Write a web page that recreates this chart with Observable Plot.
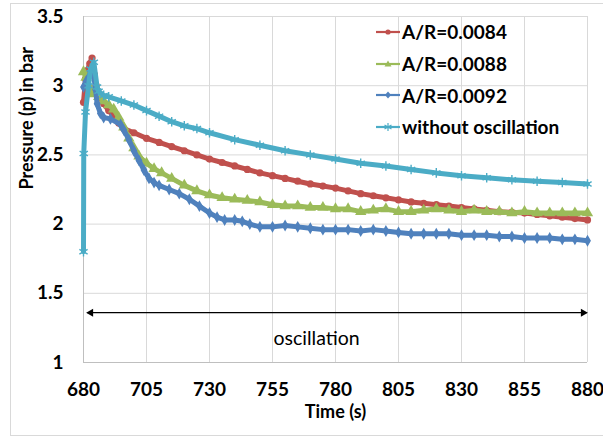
<!DOCTYPE html>
<html><head><meta charset="utf-8">
<script src="https://cdn.jsdelivr.net/npm/d3@7"></script>
<script src="https://cdn.jsdelivr.net/npm/@observablehq/plot@0.6"></script>
<style>
body{margin:0;background:#fff;}
#wrap{position:relative;width:603px;height:437px;overflow:hidden;font-family:Lato,"Open Sans",sans-serif;}
#frame{position:absolute;left:10px;top:3px;width:600px;height:433px;border:1px solid #d9d9d9;box-sizing:border-box;}
#chart{position:absolute;left:0;top:0;}
#legend{position:absolute;left:376px;top:16px;}
.item{display:flex;align-items:center;height:31.7px;font-size:19px;font-weight:700;color:#000;}
.item svg{margin-right:2px;}
</style></head>
<body><div id="wrap"><div id="frame"></div><div id="chart"></div><div id="legend"></div></div>
<script>
// ---- data ----
const seriesNames = ["A/R=0.0084", "A/R=0.0088", "A/R=0.0092", "without oscillation"];
const seriesColors = ["#c0504d", "#9bbb59", "#4f81bd", "#4bacc6"];
const seriesSymbols = ["circle", "triangle", "diamond", "asterisk"];

const tRed = [680,680.8,681.5,682.5,683.4,684.3,685,686,688,690,692,694,696,700,705,710,715,720,725,730,
  735,740,745,750,755,760,765,770,775,780,785,790,795,800,805,810,815,820,825,830,835,840,845,850,855,860,865,870,875,880];
const pRed = [2.88,3.05,3.11,3.16,3.20,3.08,3.00,2.93,2.87,2.82,2.78,2.73,2.69,2.66,2.62,2.59,2.56,2.53,2.50,2.47,
  2.445,2.42,2.395,2.37,2.35,2.33,2.31,2.29,2.275,2.26,2.24,2.22,2.205,2.19,2.175,2.16,2.15,2.14,2.13,2.12,2.11,2.10,2.09,2.085,2.08,2.07,2.06,2.05,2.04,2.03];

const tGreen = [680,681,682,683,684,686,688,690,692,694,696,698,700,702,705,708,711,715,720,725,730,
  735,740,745,750,755,760,765,770,775,780,785,790,795,800,805,810,815,820,825,830,835,840,845,850,855,860,865,870,875,880];
const pGreen = [3.10,3.06,3.00,2.96,2.94,2.92,2.89,2.86,2.83,2.77,2.70,2.62,2.55,2.49,2.44,2.40,2.37,2.33,2.28,2.24,2.21,
  2.19,2.18,2.17,2.16,2.14,2.13,2.13,2.12,2.12,2.11,2.11,2.09,2.10,2.11,2.09,2.09,2.10,2.11,2.10,2.09,2.10,2.09,2.09,2.08,2.09,2.08,2.08,2.08,2.08,2.08];

const tBlue = [680,681,682,683,684,684.8,685.4,686.7,688,690.7,694.7,696,698,700,702,704,706,708,710,714,718,722,726,730,733,736,740,743,746,750,
  755,760,765,770,775,780,785,790,795,800,805,810,815,820,825,830,835,840,845,850,855,860,865,870,875,880];
const pBlue = [2.99,3.03,3.06,3.10,3.08,2.97,2.87,2.80,2.77,2.76,2.72,2.68,2.61,2.53,2.46,2.39,2.33,2.30,2.28,2.25,2.22,2.18,2.13,2.08,2.05,2.03,2.03,2.02,2.00,1.98,
  1.98,1.99,1.98,1.97,1.96,1.96,1.96,1.95,1.96,1.95,1.94,1.93,1.93,1.93,1.93,1.92,1.92,1.92,1.91,1.91,1.90,1.90,1.90,1.89,1.89,1.88];

const tCyan = [680,680.1,680.8,682,682.8,684.1,685.4,686,688,690,695,700,705,710,715,720,725,730,740,750,760,770,780,790,800,810,820,830,840,850,860,870,880];
const pCyan = [1.8,2.51,2.81,3.0,3.12,3.17,2.99,2.96,2.93,2.92,2.89,2.86,2.82,2.78,2.74,2.71,2.69,2.66,2.61,2.57,2.53,2.50,2.47,2.44,2.42,2.395,2.37,2.35,2.335,2.32,2.31,2.30,2.29];

const xTicks = [680,705,730,755,780,805,830,855,880];
const yTicks = [1,1.5,2,2.5,3,3.5];
const xTitle = "Time (s)";
const yTitle = "Pressure (p) in bar";
const noteText = "oscillation";
const noteX = 772.5, noteY = 1.17;
const arrowFrom = 681.6, arrowTo = 879.6, arrowY = 1.36;

// ---- build tidy rows ----
const times = [tRed, tGreen, tBlue, tCyan];
const values = [pRed, pGreen, pBlue, pCyan];
const rows = [];
seriesNames.forEach((name, i) => times[i].forEach((t, j) => rows.push({series: name, idx: i, t, p: values[i][j]})));

const lineMarks = [];
seriesNames.forEach((name, i) => {
  const data = rows.filter(r => r.idx === i);
  lineMarks.push(Plot.line(data, {x: "t", y: "p", stroke: seriesColors[i], strokeWidth: 5, curve: "linear", strokeLinejoin: "round"}));
  if (seriesSymbols[i] === "asterisk") {
    lineMarks.push(Plot.dot(data, {x: "t", y: "p", symbol: "asterisk", stroke: seriesColors[i], strokeWidth: 1.4, r: 4.5}));
  } else {
    lineMarks.push(Plot.dot(data, {x: "t", y: "p", symbol: seriesSymbols[i], fill: seriesColors[i], stroke: "none", r: seriesSymbols[i] === "triangle" ? 4.2 : 3.6}));
  }
});

const grid = "#d9d9d9";
const chart = Plot.plot({
  width: 603, height: 437,
  marginLeft: 83, marginRight: 16, marginTop: 16, marginBottom: 75,
  style: {fontFamily: "Lato, 'Open Sans', sans-serif", background: "transparent", color: "#000"},
  x: {type: "linear", domain: [680, 880]},
  y: {type: "linear", domain: [1, 3.5]},
  marks: [
    Plot.gridX(xTicks, {stroke: grid, strokeOpacity: 1, strokeWidth: 1}),
    Plot.gridY(yTicks, {stroke: grid, strokeOpacity: 1, strokeWidth: 1}),
    Plot.ruleX([680], {stroke: "#bfbfbf"}),
    Plot.ruleY([1], {stroke: "#bfbfbf"}),
    Plot.axisX(xTicks, {tickSize: 0, tickPadding: 20, fontSize: 19, fontWeight: "bold", tickFormat: d => String(d), label: null}),
    Plot.axisY(yTicks, {tickSize: 0, tickPadding: 20, fontSize: 19, fontWeight: "bold", tickFormat: d => String(d), label: null}),
    Plot.text([xTitle], {frameAnchor: "bottom", dy: 55, fontSize: 18, fontWeight: "bold", text: d => d}),
    Plot.text([yTitle], {frameAnchor: "left", dx: -56, rotate: -90, fontSize: 18, fontWeight: "bold", text: d => d}),
    Plot.link([{a: arrowFrom, b: arrowTo, y: arrowY}], {x1: "a", x2: "b", y1: "y", y2: "y", stroke: "#000", strokeWidth: 1.3}),
    Plot.dot([{x: arrowFrom + 1.3, y: arrowY, r: -90}, {x: arrowTo - 1.3, y: arrowY, r: 90}], {x: "x", y: "y", rotate: "r", symbol: "triangle", fill: "#000", r: 3}),
    Plot.text([noteText], {x: () => noteX, y: () => noteY, text: d => d, fontSize: 19.5, fill: "#000"}),
    ...lineMarks
  ]
});
document.getElementById("chart").appendChild(chart);

// ---- legend ----
const legend = document.getElementById("legend");
const swatchShape = {
  circle: c => `<circle cx="12" cy="6" r="2.6" fill="${c}"/>`,
  triangle: c => `<path d="M12,2.5 L15.5,8.5 L8.5,8.5Z" fill="${c}"/>`,
  diamond: c => `<path d="M12,2.5 L15,6 L12,9.5 L9,6Z" fill="${c}"/>`,
  asterisk: c => `<path d="M12,2 V10 M8.5,4 L15.5,8 M8.5,8 L15.5,4" stroke="${c}" stroke-width="1.2"/>`
};
seriesNames.forEach((name, i) => {
  const div = document.createElement("div");
  div.className = "item";
  div.innerHTML = `<svg width="24" height="12"><line x1="0" x2="24" y1="6" y2="6" stroke="${seriesColors[i]}" stroke-width="2.2"/>${swatchShape[seriesSymbols[i]](seriesColors[i])}</svg><span>${name}</span>`;
  legend.appendChild(div);
});
</script>
</body></html>
